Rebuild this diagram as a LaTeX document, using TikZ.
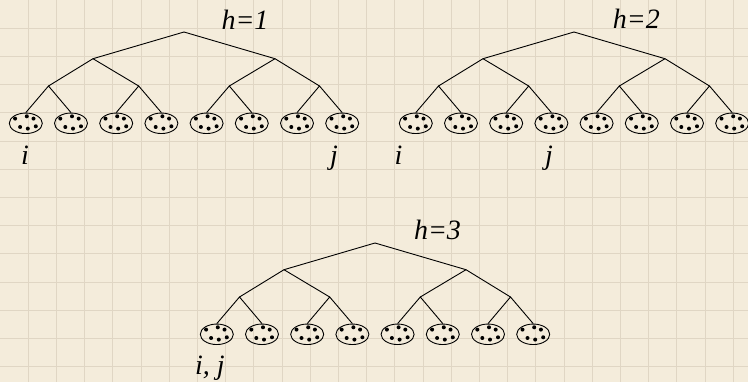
\documentclass[tikz,border=0pt]{standalone}
\usepackage{fontspec}
\setmainfont{Liberation Serif}
\usetikzlibrary{shapes.geometric}
\definecolor{paper}{RGB}{244,236,219}
\definecolor{gridc}{RGB}{224,214,196}
\tikzset{
  edge/.style={black, line width=0.9pt},
  gridline/.style={gridc, line width=0.8pt},
  leaf/.style={ellipse, draw=black, line width=0.9pt, minimum width=33pt, minimum height=20.5pt, inner sep=0pt,
    path picture={\foreach \dx/\dy in {-10.7/-4.7,1/-7,7.7/-4.7,-5.7/3.7,2/5.3,10/3}
      \fill[black] ([shift={(\dx pt,-\dy pt)}]path picture bounding box.center) circle (2pt);}},
  lbl/.style={font=\fontsize{28}{30}\selectfont\itshape, inner sep=0pt, anchor=base},
}
\newcommand\mytree[3]{%
  \begin{scope}[shift={(#2,#3)}]
    \coordinate (#1r) at (0,0);
    \coordinate (#1a) at (-91,26.7);
    \coordinate (#1b) at (91,26.7);
    \coordinate (#1c1) at (-135.5,54);
    \coordinate (#1c2) at (-45.3,54);
    \coordinate (#1c3) at (45.3,54);
    \coordinate (#1c4) at (135.5,54);
    \foreach \i/\x in {1/-158.2,2/-113,3/-67.8,4/-22.6,5/22.6,6/67.8,7/113,8/158.2}
      \node[leaf] (#1l\i) at (\x,91.3) {};
    \draw[edge] (#1a) -- (#1r) -- (#1b);
    \draw[edge] (#1c1) -- (#1a) -- (#1c2);
    \draw[edge] (#1c3) -- (#1b) -- (#1c4);
    \draw[edge] (#1l1.north) -- (#1c1) -- (#1l2.north);
    \draw[edge] (#1l3.north) -- (#1c2) -- (#1l4.north);
    \draw[edge] (#1l5.north) -- (#1c3) -- (#1l6.north);
    \draw[edge] (#1l7.north) -- (#1c4) -- (#1l8.north);
  \end{scope}}
\begin{document}
\begin{tikzpicture}[x=1pt,y=-1pt]
  \useasboundingbox (0,0) rectangle (748,382);
  \fill[paper] (0,0) rectangle (748,382);
  \foreach \k in {1,...,26} \draw[gridline] (\k*28.2,0) -- (\k*28.2,382);
  \foreach \k in {1,...,13} \draw[gridline] (0,\k*28.2) -- (748,\k*28.2);
  \mytree{A}{184}{32}
  \mytree{B}{574}{32}
  \mytree{C}{375}{243}
  \node[lbl] (hA) at (245,30) {h=1};
  \node[lbl] (iA) at (25,165) {i};
  \node[lbl] (jA) at (334,165) {j};
  \node[lbl] (hB) at (636.3,29) {h=2};
  \node[lbl] (iB) at (398.5,165) {i};
  \node[lbl] (jB) at (549,165) {j};
  \node[lbl] (hC) at (437.5,240) {h=3};
  \node[lbl, anchor=base west] (ijC) at (195,375) {i, j};
\end{tikzpicture}
\end{document}
